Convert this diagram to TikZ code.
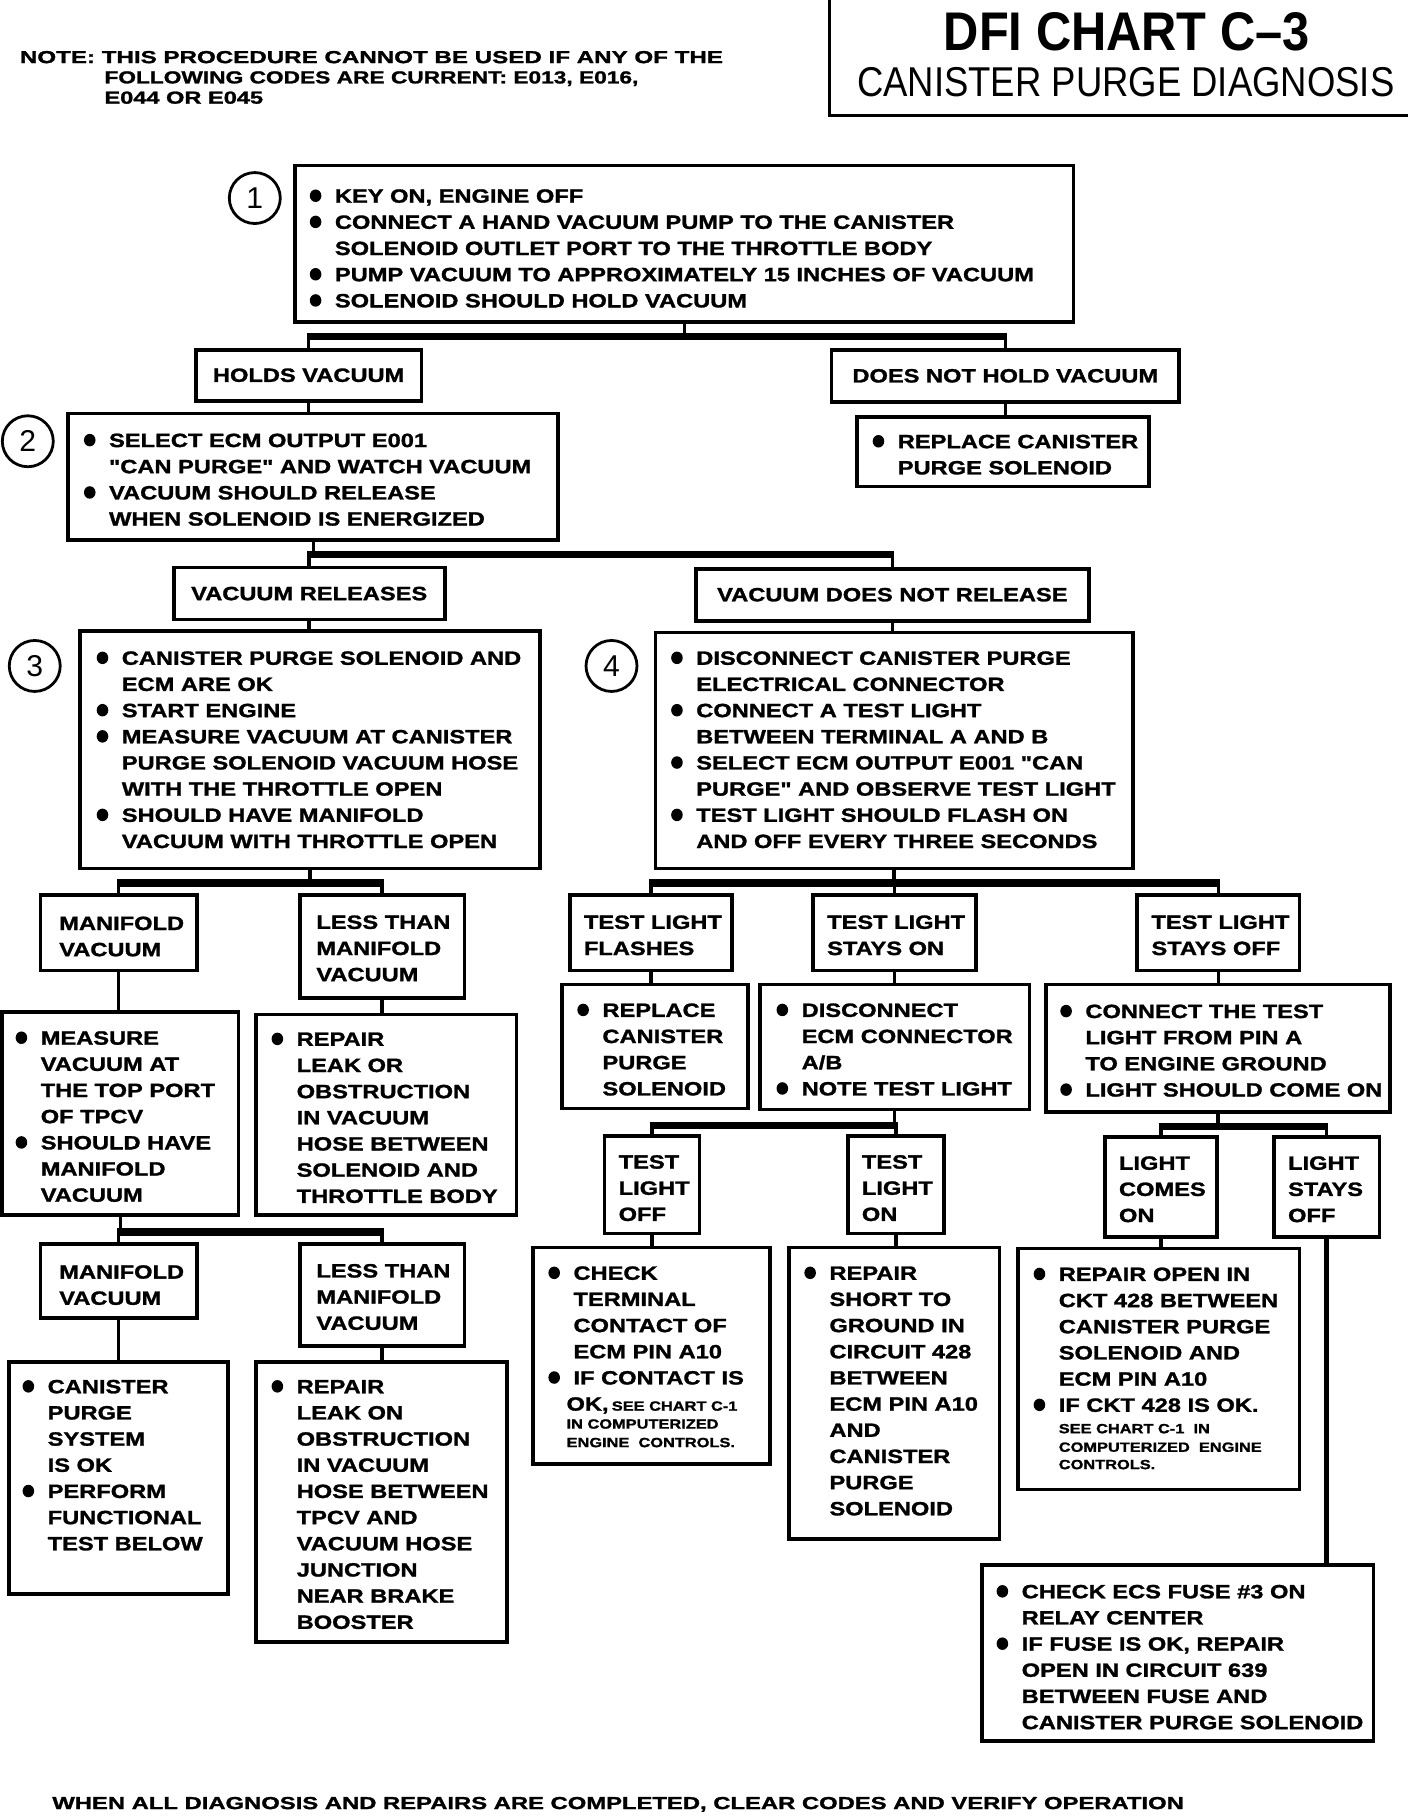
\documentclass[tikz,border=0pt]{standalone}
\usepackage{fontspec}
\usepackage{graphicx}
\setmainfont{Liberation Sans}
\newfontfamily\widef{Liberation Sans}[FakeStretch=1.23,FakeBold=1.4]
\newcommand\bodyf{\widef\fontsize{16.6}{22}\selectfont\bfseries}
\newcommand\smallf{\widef\fontsize{11.5}{15}\selectfont\bfseries}
\newcommand\notef{\widef\fontsize{15}{17}\selectfont\bfseries}
\newcommand\qt{\symbol{34}}
\tikzset{
 box/.style={draw, line width=3.2pt, rectangle, inner sep=0pt, font=\bodyf},
 conn/.style={line width=3pt},
 bar/.style={line width=6.5pt, shorten <=-1.5pt, shorten >=-1.5pt},
 tl/.style={anchor=base west, inner sep=0pt, font=\bodyf},
 sm/.style={anchor=base west, inner sep=0pt, font=\smallf},
 num/.style={draw, circle, line width=2.4pt, minimum size=44pt, inner sep=0pt, font=\fontsize{26}{26}\selectfont},
}
% box: name, x1, y1, x2, y2, text
\newcommand\bx[6]{\node[box, minimum width={(#4-#2)*1pt}, minimum height={(#5-#3)*1pt}] (#1) at ({(#2+#4)/2},{(#3+#5)/2}) {#6};}
% text lines: name, x, y(center of first line), lines
\newcommand\tx[4]{\foreach \tline [count=\i from 0] in {#4} {\node[tl] (#1-\i) at ({#2},{#3+6+\i*22.6}) {\tline};}}
% bullets: text x, first y, indices
\newcommand\bu[3]{\foreach \k in {#3} {\fill ({#1-16.5},{#2+\k*22.6}) ellipse [x radius=5pt, y radius=5.4pt];}}
% fork: parent, dy, left child, right child, children
\newcommand\fork[5]{%
 \path (#1.south) ++(0,#2) coordinate (#1-j);
 \draw[conn] (#1.south) -- (#1-j);
 \draw[bar] (#3.north |- #1-j) -- (#4.north |- #1-j);
 \foreach \c in {#5} {\draw[conn] (\c.north |- #1-j) -- (\c.north);}}
\newcommand\link[2]{\draw[conn] (#1.south) -- (#1.south |- #2.north);}

\begin{document}
\begin{tikzpicture}[x=1pt,y=-1pt]
\fill[white] (0,0) rectangle (1216,1568);
\useasboundingbox (0,0) rectangle (1216,1568);

% header
\node[anchor=base west, inner sep=0pt] (note1) at (17,54.5) {\resizebox{607pt}{\height}{\notef NOTE: THIS PROCEDURE CANNOT BE USED IF ANY OF THE}};
\node[anchor=base west, inner sep=0pt] (note2) at (90,72) {\resizebox{461pt}{\height}{\notef FOLLOWING CODES ARE CURRENT: E013, E016,}};
\node[anchor=base west, inner sep=0pt] (note3) at (90,89.5) {\resizebox{137pt}{\height}{\notef E044 OR E045}};
\draw[line width=2.4pt] (716,0) -- (716,100) -- (1216,100);
\node[anchor=base, inner sep=0pt] (title) at (973,44) {\resizebox{316pt}{\height}{\fontsize{47}{47}\selectfont\bfseries DFI CHART C–3}};
\node[anchor=base, inner sep=0pt] (subtitle) at (972,83) {\resizebox{464pt}{\height}{\fontsize{36}{36}\selectfont CANISTER PURGE DIAGNOSIS}};

% step 1
\node[num] (c1) at (220,171) {1};
\bx{b1}{255}{143}{927}{278}{}
\tx{b1t}{289}{169}{{KEY ON, ENGINE OFF},CONNECT A HAND VACUUM PUMP TO THE CANISTER,SOLENOID OUTLET PORT TO THE THROTTLE BODY,PUMP VACUUM TO APPROXIMATELY 15 INCHES OF VACUUM,SOLENOID SHOULD HOLD VACUUM}
\bu{289}{169}{0,1,3,4}

\bx{hv}{169}{302}{364}{346}{HOLDS VACUUM}
\bx{dnh}{718}{302}{1018}{347}{DOES NOT HOLD VACUUM}
\bx{rc}{740}{360}{992}{420}{}
\tx{rct}{775}{381}{REPLACE CANISTER,PURGE SOLENOID}
\bu{775}{381}{0}

% step 2
\node[num] (c2) at (24,381) {2};
\bx{b2}{59}{357}{482}{466}{}
\tx{b2t}{94}{380}{SELECT ECM OUTPUT E001,\qt CAN PURGE\qt{} AND WATCH VACUUM,VACUUM SHOULD RELEASE,WHEN SOLENOID IS ENERGIZED}
\bu{94}{380}{0,2}

\bx{vr}{150}{490}{384}{535}{VACUUM RELEASES}
\bx{vdn}{601}{491}{940}{536}{VACUUM DOES NOT RELEASE}

% step 3
\node[num] (c3) at (30,575) {3};
\bx{b3}{69}{545}{466}{750}{}
\tx{b3t}{105}{568}{CANISTER PURGE SOLENOID AND,ECM ARE OK,START ENGINE,MEASURE VACUUM AT CANISTER,PURGE SOLENOID VACUUM HOSE,WITH THE THROTTLE OPEN,SHOULD HAVE MANIFOLD,VACUUM WITH THROTTLE OPEN}
\bu{105}{568}{0,2,3,6}

% step 4
\node[num] (c4) at (528,575) {4};
\bx{b4}{566}{546}{978}{750}{}
\tx{b4t}{601}{568}{DISCONNECT CANISTER PURGE,ELECTRICAL CONNECTOR,CONNECT A TEST LIGHT,BETWEEN TERMINAL A AND B,SELECT ECM OUTPUT E001 \qt CAN,PURGE\qt{} AND OBSERVE TEST LIGHT,TEST LIGHT SHOULD FLASH ON,AND OFF EVERY THREE SECONDS}
\bu{601}{568}{0,2,4,6}

% level 5
\bx{mv1}{35}{773}{170}{838}{}
\tx{mv1t}{51}{797}{MANIFOLD,VACUUM}
\bx{lt1}{259}{773}{401}{862}{}
\tx{lt1t}{273}{796}{LESS THAN,MANIFOLD,VACUUM}
\bx{tlf}{492}{773}{632}{838}{}
\tx{tlft}{504}{796}{TEST LIGHT,FLASHES}
\bx{tls}{702}{773}{843}{838}{}
\tx{tlst}{714}{796}{TEST LIGHT,STAYS ON}
\bx{tlo}{982}{773}{1122}{838}{}
\tx{tlot}{994}{796}{TEST LIGHT,STAYS OFF}

% level 6
\bx{meas}{2}{874}{206}{1049}{}
\tx{meast}{35}{896}{MEASURE,VACUUM AT,THE TOP PORT,OF TPCV,SHOULD HAVE,MANIFOLD,VACUUM}
\bu{35}{896}{0,4}
\bx{rep1}{221}{876}{446}{1049}{}
\tx{rep1t}{256}{897}{REPAIR,LEAK OR,OBSTRUCTION,IN VACUUM,HOSE BETWEEN,SOLENOID AND,THROTTLE BODY}
\bu{256}{897}{0}
\bx{rpl}{485}{850}{646}{957}{}
\tx{rplt}{520}{872}{REPLACE,CANISTER,PURGE,SOLENOID}
\bu{520}{872}{0}
\bx{dis}{656}{850}{889}{958}{}
\tx{dist}{692}{872}{DISCONNECT,ECM CONNECTOR,A/B,NOTE TEST LIGHT}
\bu{692}{872}{0,3}
\bx{con}{903}{850}{1200}{960}{}
\tx{cont}{937}{873}{CONNECT THE TEST,LIGHT FROM PIN A,TO ENGINE GROUND,LIGHT SHOULD COME ON}
\bu{937}{873}{0,3}

% level 7
\bx{mv2}{35}{1074}{170}{1138}{}
\tx{mv2t}{51}{1098}{MANIFOLD,VACUUM}
\bx{lt2}{259}{1074}{401}{1162}{}
\tx{lt2t}{273}{1097}{LESS THAN,MANIFOLD,VACUUM}
\bx{tlof}{522}{981}{604}{1065}{}
\tx{tloft}{534}{1003}{TEST,LIGHT,OFF}
\bx{tlon}{732}{981}{815}{1065}{}
\tx{tlont}{744}{1003}{TEST,LIGHT,ON}
\bx{lco}{954}{982}{1051}{1068}{}
\tx{lcot}{966}{1004}{LIGHT,COMES,ON}
\bx{lso}{1100}{982}{1191}{1068}{}
\tx{lsot}{1112}{1004}{LIGHT,STAYS,OFF}

% level 8
\bx{cps}{8}{1176}{197}{1376}{}
\tx{cpst}{41}{1197}{CANISTER,PURGE,SYSTEM,IS OK,PERFORM,FUNCTIONAL,TEST BELOW}
\bu{41}{1197}{0,4}
\bx{rep2}{221}{1176}{438}{1418}{}
\tx{rep2t}{256}{1197}{REPAIR,LEAK ON,OBSTRUCTION,IN VACUUM,HOSE BETWEEN,TPCV AND,VACUUM HOSE,JUNCTION,NEAR BRAKE,BOOSTER}
\bu{256}{1197}{0}
\bx{chk}{460}{1077}{665}{1264}{}
\tx{chkt}{495}{1099}{CHECK,TERMINAL,CONTACT OF,ECM PIN A10,IF CONTACT IS}
\bu{495}{1099}{0,4}
\node[tl] (chkok) at (489,1218) {OK,\,{\smallf SEE CHART C-1}};
\node[sm] (chks1) at (489,1233.5) {IN COMPUTERIZED};
\node[sm] (chks2) at (489,1249.5) {ENGINE\ \ CONTROLS.};
\bx{rsh}{681}{1077}{863}{1329}{}
\tx{rsht}{716}{1099}{REPAIR,SHORT TO,GROUND IN,CIRCUIT 428,BETWEEN,ECM PIN A10,AND,CANISTER,PURGE,SOLENOID}
\bu{716}{1099}{0}
\bx{rop}{879}{1078}{1122}{1286}{}
\tx{ropt}{914}{1100}{REPAIR OPEN IN,CKT 428 BETWEEN,CANISTER PURGE,SOLENOID AND,ECM PIN A10,IF CKT 428 IS OK.}
\bu{914}{1100}{0,5}
\node[sm] (rops1) at (914,1237.5) {SEE CHART C-1\ \ IN};
\node[sm] (rops2) at (914,1253.5) {COMPUTERIZED\ \ ENGINE};
\node[sm] (rops3) at (914,1268.5) {CONTROLS.};
\bx{ecs}{848}{1351}{1186}{1503}{}
\tx{ecst}{882}{1374}{CHECK ECS FUSE \#3 ON,RELAY CENTER,{IF FUSE IS OK, REPAIR},OPEN IN CIRCUIT 639,BETWEEN FUSE AND,CANISTER PURGE SOLENOID}
\bu{882}{1374}{0,2}

% footer
\node[anchor=base west, inner sep=0pt] (foot) at (45,1562) {\resizebox{977pt}{\height}{\notef WHEN ALL DIAGNOSIS AND REPAIRS ARE COMPLETED, CLEAR CODES AND VERIFY OPERATION}};

% connectors
\fork{b1}{11}{hv}{dnh}{hv,dnh}
\link{hv}{b2}
\link{dnh}{rc}
\fork{b2}{11}{vr}{vdn}{vr,vdn}
\link{vr}{b3}
\link{vdn}{b4}
\fork{b3}{11}{mv1}{lt1}{mv1,lt1}
\fork{b4}{11}{tlf}{tlo}{tlf,tls,tlo}
\link{mv1}{meas}
\link{lt1}{rep1}
\link{tlf}{rpl}
\link{tls}{dis}
\link{tlo}{con}
\fork{meas}{13}{mv2}{lt2}{mv2,lt2}
\fork{dis}{12}{tlof}{tlon}{tlof,tlon}
\fork{con}{11}{lco}{lso}{lco,lso}
\link{mv2}{cps}
\link{lt2}{rep2}
\link{tlof}{chk}
\link{tlon}{rsh}
\link{lco}{rop}
\draw[line width=3.8pt] (lso.south) -- (lso.south |- ecs.north);
\end{tikzpicture}
\end{document}
